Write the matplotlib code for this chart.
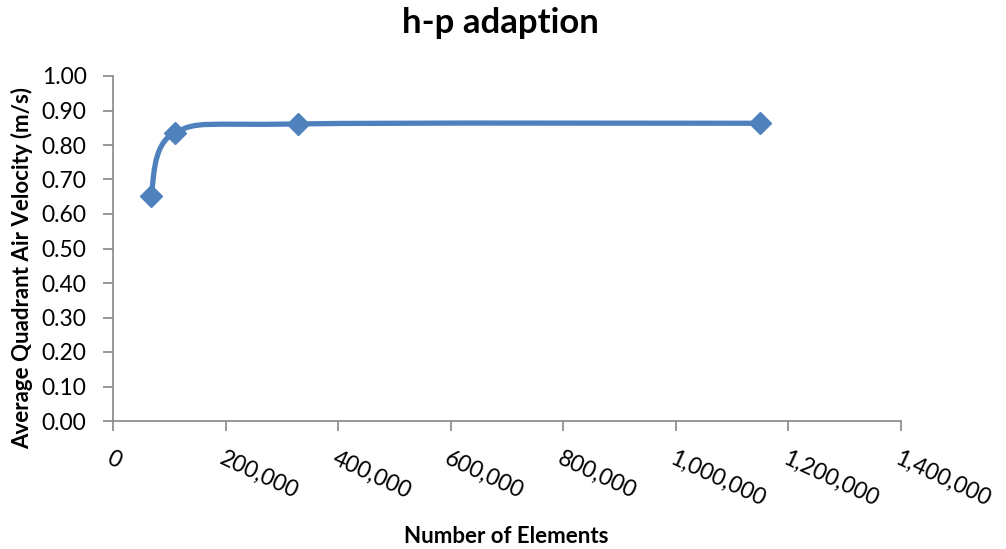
import matplotlib.pyplot as plt
from matplotlib.path import Path
from matplotlib.patches import PathPatch
from matplotlib.ticker import FuncFormatter
import numpy as np

elements = [67000, 110000, 328000, 1149000]
velocity = [0.653, 0.836, 0.861, 0.863]

x_ticks = np.arange(0, 1400001, 200000)
y_ticks = np.arange(0, 1.0001, 0.1)

blue = '#4F81BD'
grey = '#868686'
plt.rcParams['font.family'] = ['Lato', 'DejaVu Sans']

fig = plt.figure(figsize=(10.06, 5.49), dpi=100)
ax = fig.add_axes([113 / 1006, 128 / 549, 788 / 1006, 345 / 549])


def smooth_path(xs, ys):
    # Excel-style smoothed line: Bezier segments with Catmull-Rom control points
    pts = np.column_stack([xs, ys]).astype(float)
    n = len(pts)
    verts = [pts[0]]
    codes = [Path.MOVETO]
    for i in range(n - 1):
        p0 = pts[max(i - 1, 0)]
        p1 = pts[i]
        p2 = pts[i + 1]
        p3 = pts[min(i + 2, n - 1)]
        verts += [p1 + (p2 - p0) / 6, p2 - (p3 - p1) / 6, p2]
        codes += [Path.CURVE4] * 3
    return Path(verts, codes)


ax.add_patch(PathPatch(smooth_path(elements, velocity), facecolor='none',
                       edgecolor=blue, lw=3.8, capstyle='round', zorder=2))
ax.plot(elements, velocity, linestyle='none', marker='D', markersize=11,
        color=blue, zorder=3)

ax.set_xlim(0, 1400000)
ax.set_ylim(0, 1.0)
ax.set_xticks(x_ticks)
ax.set_yticks(y_ticks)
ax.xaxis.set_major_formatter(FuncFormatter(lambda v, p: f'{int(v):,}'))
ax.yaxis.set_major_formatter(FuncFormatter(lambda v, p: f'{v:.2f}'))

for s in ['top', 'right']:
    ax.spines[s].set_visible(False)
for s in ['left', 'bottom']:
    ax.spines[s].set_color(grey)
    ax.spines[s].set_linewidth(1.2)
ax.tick_params(colors=grey, labelcolor='black', labelsize=16.5, length=7, width=1.2)
ax.tick_params(axis='y', pad=12)
ax.tick_params(axis='x', pad=12)
for lbl in ax.get_xticklabels():
    lbl.set_rotation(-25)
    lbl.set_ha('left')
    lbl.set_va('top')
    lbl.set_rotation_mode('anchor')

fig.text(0.497, 0.940, 'h-p adaption', fontsize=25, fontweight='bold',
         ha='center', va='baseline')
ax.set_xlabel('Number of Elements', fontsize=16, fontweight='bold')
ax.xaxis.set_label_coords(0.4994, -0.304)
ax.set_ylabel('Average Quadrant Air Velocity (m/s)', fontsize=16, fontweight='bold')
ax.yaxis.set_label_coords(-0.1015, 0.443)

fig.savefig('out.png', dpi=100, facecolor='white')
